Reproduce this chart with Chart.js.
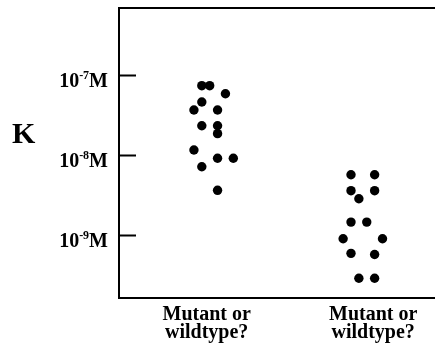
<!DOCTYPE html>
<html>
<head>
<meta charset="utf-8">
<script src="https://cdn.jsdelivr.net/npm/chart.js@4"></script>
<style>
  html, body { margin: 0; padding: 0; background: #fff; }
  #wrap { width: 435px; height: 345px; }
</style>
</head>
<body>
<div id="wrap"><canvas id="chart"></canvas></div>
<script>
// Category labels (two lines each)
const categories = [['Mutant or', 'wildtype?'], ['Mutant or', 'wildtype?']];

// K values (M), plus the swarm column of each dot
const groupOneK = [7.35e-8, 7.35e-8, 5.83e-8, 4.6e-8, 3.65e-8, 3.65e-8, 2.32e-8,
                   2.32e-8, 1.85e-8, 1.155e-8, 9.1e-9, 9.1e-9, 7.14e-9, 3.62e-9];
const groupOneCol = [-1, 0, 2, -1, -2, 1, -1, 1, 1, -2, 1, 3, -1, 1];

const groupTwoK = [5.67e-9, 5.67e-9, 3.58e-9, 3.58e-9, 2.84e-9, 1.45e-9, 1.45e-9,
                   8.99e-10, 8.99e-10, 5.9e-10, 5.7e-10, 2.88e-10, 2.88e-10];
const groupTwoCol = [-1, 2, -1, 2, 0, -1, 1, -2, 3, -1, 2, 0, 2];

// Y ticks: exponents of ten
const tickExponents = [-7, -8, -9];

const SERIF = "'Liberation Serif', 'Times New Roman', serif";
const colStep = 0.0473;          // one dot width in x units
const groupCenter = [1.018, 1.914];

function swarm(values, cols, center) {
    return values.map((k, i) => ({ x: center + cols[i] * colStep, y: k }));
}

// frame, inward ticks, superscript tick labels and upright "K"
const decorations = {
    id: 'decorations',
    afterDraw(chart) {
        const { ctx, chartArea: a, scales: { y } } = chart;
        ctx.save();
        ctx.strokeStyle = '#000';
        ctx.lineWidth = 2;
        ctx.beginPath();
        ctx.moveTo(a.right + 10, a.top);
        ctx.lineTo(a.left, a.top);
        ctx.lineTo(a.left, a.bottom);
        ctx.lineTo(a.right + 10, a.bottom);
        ctx.stroke();

        ctx.fillStyle = '#000';
        ctx.textBaseline = 'alphabetic';
        tickExponents.forEach(e => {
            const py = Math.round(y.getPixelForValue(Math.pow(10, e))) + 0.5;
            ctx.beginPath();
            ctx.moveTo(a.left, py);
            ctx.lineTo(a.left + 17, py);
            ctx.stroke();

            const base = py + 11;
            const big = 'bold 20px ' + SERIF;
            const small = 'bold 12px ' + SERIF;
            ctx.font = big;
            const wTen = ctx.measureText('10').width;
            const wM = ctx.measureText('M').width;
            ctx.font = small;
            const sup = '-' + Math.abs(e);
            const wSup = ctx.measureText(sup).width;
            let x = 108 - (wTen + wSup + wM);
            ctx.font = big;
            ctx.textAlign = 'left';
            ctx.fillText('10', x, base);
            x += wTen;
            ctx.font = small;
            ctx.fillText(sup, x, base - 8);
            x += wSup;
            ctx.font = big;
            ctx.fillText('M', x, base);
        });

        ctx.font = 'bold 30px ' + SERIF;
        ctx.textAlign = 'left';
        ctx.fillText('K', 12, 143);
        ctx.restore();
    }
};

new Chart(document.getElementById('chart'), {
    type: 'scatter',
    data: {
        datasets: [
            { data: swarm(groupOneK, groupOneCol, groupCenter[0]) },
            { data: swarm(groupTwoK, groupTwoCol, groupCenter[1]) }
        ]
    },
    options: {
        responsive: true,
        maintainAspectRatio: false,
        animation: false,
        layout: { padding: { left: 119, top: 8, right: 0, bottom: 0 } },
        elements: {
            point: { radius: 4.7, backgroundColor: '#000', borderWidth: 0, hoverRadius: 4.7 }
        },
        plugins: { legend: { display: false }, tooltip: { enabled: false } },
        scales: {
            x: {
                type: 'linear',
                min: 0.4734,
                max: 2.343,
                grid: { display: false, drawTicks: false },
                border: { display: false },
                afterBuildTicks: s => { s.ticks = [{ value: 1 }, { value: 2 }]; },
                afterFit: s => { s.height = 47; },
                ticks: {
                    padding: 8,
                    color: '#000',
                    maxRotation: 0,
                    font: { family: SERIF, size: 20, weight: 'bold', lineHeight: '18px' },
                    callback: v => categories[v - 1]
                }
            },
            y: {
                type: 'logarithmic',
                display: false,
                min: Math.pow(10, -9.7875),
                max: Math.pow(10, -6.1625)
            }
        }
    },
    plugins: [decorations]
});
</script>
</body>
</html>
